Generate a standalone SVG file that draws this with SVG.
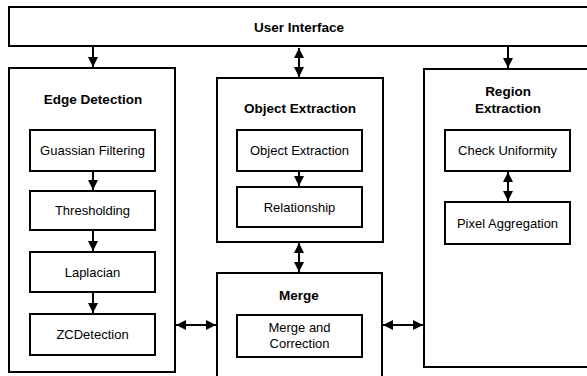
<svg xmlns="http://www.w3.org/2000/svg" width="587" height="376" viewBox="0 0 587 376">
<defs>
<marker id="ah" viewBox="0 0 10 10" refX="10" refY="5" markerWidth="10" markerHeight="10" markerUnits="userSpaceOnUse" orient="auto-start-reverse"><path d="M0,0 L10,5 L0,10 z" fill="#000"/></marker>
</defs>
<style>
.box{fill:#fff;stroke:#000;stroke-width:2}
.t{font-family:"Liberation Sans",Arial,sans-serif;font-size:13px;text-anchor:middle;fill:#000}
.b{font-weight:bold;font-size:13.5px}
.c{stroke:#000;stroke-width:2;fill:none}
</style>
<rect width="587" height="376" fill="#fff"/>
<g id="user-interface">
<rect class="box" x="9" y="7" width="590" height="39"/>
<text class="t b" x="299" y="32">User Interface</text>
</g>
<g id="edge-detection">
<rect class="box" x="9" y="68" width="166" height="304"/>
<text class="t b" x="93" y="104">Edge Detection</text>
</g>
<g id="guassian">
<rect class="box" x="30" y="130" width="125" height="41"/>
<text class="t" x="92.5" y="155">Guassian Filtering</text>
</g>
<g id="thresholding">
<rect class="box" x="30" y="191" width="125" height="39"/>
<text class="t" x="92.5" y="215">Thresholding</text>
</g>
<g id="laplacian">
<rect class="box" x="30" y="252" width="125" height="40"/>
<text class="t" x="92.5" y="277">Laplacian</text>
</g>
<g id="zcdetection">
<rect class="box" x="30" y="314" width="125" height="41"/>
<text class="t" x="92.5" y="339">ZCDetection</text>
</g>
<g id="object-extraction">
<rect class="box" x="217" y="78" width="166" height="164"/>
<text class="t b" x="300" y="113">Object Extraction</text>
</g>
<g id="object-extraction-inner">
<rect class="box" x="237" y="130" width="125" height="41"/>
<text class="t" x="299.5" y="155">Object Extraction</text>
</g>
<g id="relationship">
<rect class="box" x="237" y="187" width="125" height="40"/>
<text class="t" x="299.5" y="212">Relationship</text>
</g>
<g id="merge">
<rect class="box" x="217" y="273" width="165" height="110"/>
<text class="t b" x="299" y="300">Merge</text>
</g>
<g id="merge-correction">
<rect class="box" x="237" y="315" width="125" height="42"/>
<text class="t" x="299.5" y="332">Merge and</text>
<text class="t" x="299.5" y="348">Correction</text>
</g>
<g id="region-extraction">
<rect class="box" x="424" y="69" width="180" height="298"/>
<text class="t b" x="508" y="96">Region</text>
<text class="t b" x="508" y="113">Extraction</text>
</g>
<g id="check-uniformity">
<rect class="box" x="445" y="130" width="125" height="41"/>
<text class="t" x="507.5" y="155">Check Uniformity</text>
</g>
<g id="pixel-aggregation">
<rect class="box" x="445" y="202" width="125" height="42"/>
<text class="t" x="507.5" y="228">Pixel Aggregation</text>
</g>
<g id="connectors">
<line class="c" x1="93" y1="47" x2="93" y2="67" marker-end="url(#ah)"/>
<line class="c" x1="299" y1="48" x2="299" y2="77" marker-start="url(#ah)" marker-end="url(#ah)"/>
<line class="c" x1="508" y1="47" x2="508" y2="68" marker-end="url(#ah)"/>
<line class="c" x1="93" y1="172" x2="93" y2="190" marker-end="url(#ah)"/>
<line class="c" x1="93" y1="231" x2="93" y2="251" marker-end="url(#ah)"/>
<line class="c" x1="93" y1="293" x2="93" y2="313" marker-end="url(#ah)"/>
<line class="c" x1="299" y1="172" x2="299" y2="186" marker-end="url(#ah)"/>
<line class="c" x1="299" y1="243" x2="299" y2="272" marker-start="url(#ah)" marker-end="url(#ah)"/>
<line class="c" x1="508" y1="172" x2="508" y2="201" marker-start="url(#ah)" marker-end="url(#ah)"/>
<line class="c" x1="176" y1="325" x2="216" y2="325" marker-start="url(#ah)" marker-end="url(#ah)"/>
<line class="c" x1="383" y1="325" x2="423" y2="325" marker-start="url(#ah)" marker-end="url(#ah)"/>
</g>
</svg>
